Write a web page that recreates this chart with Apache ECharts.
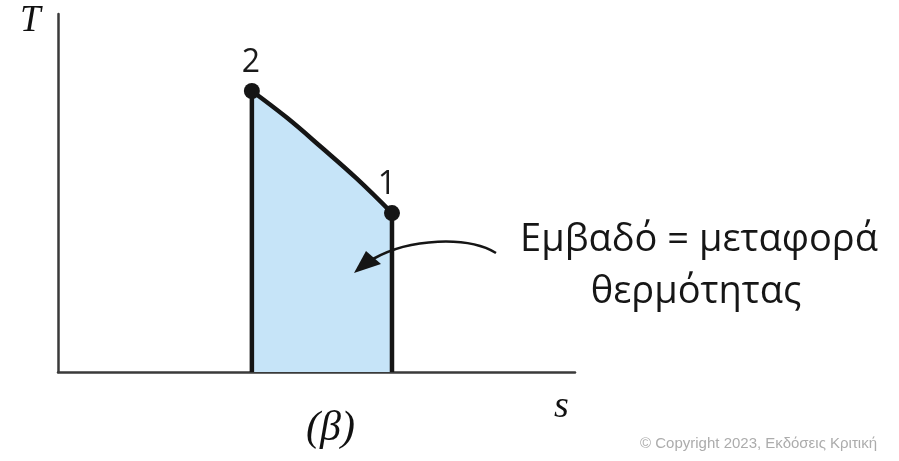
<!DOCTYPE html>
<html>
<head>
<meta charset="utf-8">
<script src="https://cdn.jsdelivr.net/npm/echarts@6/dist/echarts.min.js"></script>
<style>
  html, body { margin: 0; padding: 0; background: #fff; }
  #chart { width: 899px; height: 461px; }
</style>
</head>
<body>
<div id="chart"></div>
<script>
// process 2 -> 1 on the T-s diagram
let sValues = [3.75, 4.43, 5.1, 5.78, 6.46];
let tValues = [7.85, 7.1, 6.27, 5.4, 4.44];
let pointNames = ['2', '', '', '', '1'];

window.onload = function () {
    let myChart = echarts.init(document.getElementById('chart'));

    let curve = sValues.map(function (s, i) {
        let p = { value: [s, tValues[i]] };
        if (pointNames[i]) {
            p.symbol = 'circle';
            p.symbolSize = 16;
            p.label = { show: true, formatter: pointNames[i], position: 'top', distance: 4,
                offset: i === sValues.length - 1 ? [-5, 0] : [-1, 0] };
        } else {
            p.symbol = 'none';
        }
        return p;
    });

    let last = sValues.length - 1;
    let edgeStyle = { color: '#151515', width: 4.5 };
    let option = {
        animation: false,
        grid: { left: 58, right: 324, top: 14, bottom: 89 },
        xAxis: {
            type: 'value', min: 0, max: 10,
            axisLine: { lineStyle: { color: '#3a3a3a', width: 2.5 } },
            axisTick: { show: false }, axisLabel: { show: false }, splitLine: { show: false }
        },
        yAxis: {
            type: 'value', min: 0, max: 10,
            axisLine: { show: true, lineStyle: { color: '#3a3a3a', width: 2.5 } },
            axisTick: { show: false }, axisLabel: { show: false }, splitLine: { show: false }
        },
        series: [
            {
                type: 'line',
                data: curve,
                smooth: 0.4,
                lineStyle: { color: '#151515', width: 4.5 },
                itemStyle: { color: '#151515' },
                areaStyle: { color: '#c6e4f8', opacity: 1 },
                label: { color: '#1a1a1a', fontSize: 32, fontFamily: 'Open Sans' },
                z: 3
            },
            {
                type: 'line',
                data: [[sValues[0], 0], [sValues[0], tValues[0]]],
                symbol: 'none',
                lineStyle: edgeStyle,
                z: 4
            },
            {
                type: 'line',
                data: [[sValues[last], 0], [sValues[last], tValues[last]]],
                symbol: 'none',
                lineStyle: edgeStyle,
                z: 4
            }
        ],
        graphic: [
            { type: 'text', left: 20, top: 3,
              style: { text: 'T', font: 'italic 37px "Liberation Serif"', fill: '#111' } },
            { type: 'text', left: 554, top: 388,
              style: { text: 's', font: 'italic 38px "Liberation Serif"', fill: '#111' } },
            { type: 'text', left: 306, top: 408,
              style: { text: '(β)', font: 'italic 42px "Liberation Serif"', fill: '#111' } },
            { type: 'text', x: 699, y: 240,
              style: { text: 'Εμβαδό = μεταφορά', font: '38px "Open Sans"', fill: '#161616',
                       align: 'center', verticalAlign: 'middle' } },
            { type: 'text', x: 696, y: 292,
              style: { text: 'θερμότητας', font: '38px "Open Sans"', fill: '#161616',
                       align: 'center', verticalAlign: 'middle' } },
            { type: 'text', right: 22, top: 436,
              style: { text: '© Copyright 2023, Εκδόσεις Κριτική', font: '15px "Liberation Sans"', fill: '#acacac' } },
            { type: 'bezierCurve', z: 10,
              shape: { x1: 496, y1: 253, cpx1: 468, cpy1: 236, cpx2: 410, cpy2: 238, x2: 373, y2: 259 },
              style: { stroke: '#151515', lineWidth: 2.6, fill: null } },
            { type: 'polygon', z: 10,
              shape: { points: [[354, 273], [366, 251], [381, 264]] },
              style: { fill: '#151515' } }
        ]
    };
    myChart.setOption(option);
};
</script>
</body>
</html>
